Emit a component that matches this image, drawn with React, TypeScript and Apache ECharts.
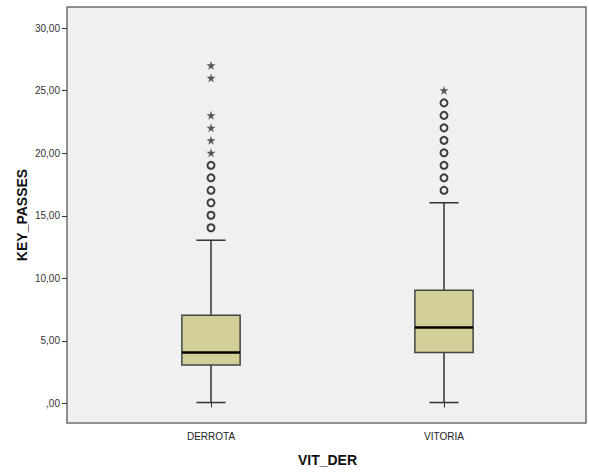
import React, { useEffect, useRef } from "react";
import * as echarts from "echarts";

const categories = ["DERROTA", "VITORIA"];
// [lower whisker, Q1, median, Q3, upper whisker]
const boxStats = [
  [0, 3, 4, 7, 13],
  [0, 4, 6, 9, 16],
];
const circleOutliers = [
  [14, 15, 16, 17, 18, 19],
  [17, 18, 19, 20, 21, 22, 23, 24],
];
const starOutliers = [
  [20, 21, 22, 23, 26, 27],
  [25],
];
const yTicks = [0, 5, 10, 15, 20, 25, 30];
const yMin = -1.56;
const yMax = 31.68;

const STAR =
  "path://M50,0 L61.8,35.1 L98.9,35.1 L68.9,57.1 L80.3,92.1 L50,70.5 L19.7,92.1 L31.1,57.1 L1.1,35.1 L38.2,35.1 Z";

const FONT = "'Liberation Sans', Arial, sans-serif";

export default function App() {
  const ref = useRef<HTMLDivElement>(null);
  useEffect(() => {
    if (!ref.current) return;
    const chart = echarts.init(ref.current, undefined, { renderer: "svg" });

    const boxData = boxStats.map((s, i) => [i, ...s]);
    const circleData: number[][] = [];
    circleOutliers.forEach((arr, i) => arr.forEach((v) => circleData.push([i, v])));
    const starData: number[][] = [];
    starOutliers.forEach((arr, i) => arr.forEach((v) => starData.push([i, v])));

    const fmt = (v: number) => {
      const s = v.toFixed(2).replace(".", ",");
      return v === 0 ? ",00" : s;
    };

    chart.setOption({
      animation: false,
      textStyle: { fontFamily: FONT },
      grid: [
        {
          left: 67,
          top: 7,
          right: 3,
          bottom: 49,
          show: true,
          backgroundColor: "#f0f0f0",
          borderColor: "#6e6e6e",
          borderWidth: 1.5,
          containLabel: false,
        },
        {
          left: 94.5,
          top: 7,
          right: 28.5,
          bottom: 49,
          containLabel: false,
        },
      ],
      xAxis: [
        {
          gridIndex: 0,
          type: "value",
          min: 0,
          max: 1,
          show: false,
        },
        {
          gridIndex: 1,
          type: "category",
          data: categories,
          boundaryGap: true,
          axisLine: { show: false },
          axisTick: {
            show: true,
            alignWithLabel: true,
            length: 5,
            lineStyle: { color: "#333", width: 1 },
          },
          axisLabel: { color: "#222", fontSize: 10, margin: 9, fontFamily: FONT },
          name: "VIT_DER",
          nameLocation: "middle",
          nameGap: 31,
          nameTextStyle: { fontSize: 14, fontWeight: "bold", color: "#111", fontFamily: FONT },
          splitLine: { show: false },
        },
      ],
      yAxis: [
        {
          gridIndex: 0,
          type: "value",
          min: yMin,
          max: yMax,
          axisLine: { show: false },
          axisTick: {
            show: true,
            length: 5,
            customValues: yTicks,
            lineStyle: { color: "#333", width: 1 },
          },
          axisLabel: {
            customValues: yTicks,
            formatter: (v: number) => fmt(v),
            color: "#333",
            fontSize: 10,
            margin: 7,
            fontFamily: FONT,
          },
          splitLine: { show: false },
          name: "KEY_PASSES",
          nameLocation: "middle",
          nameRotate: 90,
          nameGap: 38,
          nameMoveOverlap: false,
          nameTextStyle: { fontSize: 14, fontWeight: "bold", color: "#111", fontFamily: FONT },
        },
        {
          gridIndex: 1,
          type: "value",
          min: yMin,
          max: yMax,
          show: false,
          splitLine: { show: false },
        },
      ],
      series: [
        {
          type: "custom",
          xAxisIndex: 1,
          yAxisIndex: 1,
          data: boxData,
          encode: { x: 0, y: [1, 2, 3, 4, 5] },
          renderItem: (params: any, api: any) => {
            const x = api.value(0);
            const lo = api.coord([x, api.value(1)]);
            const q1 = api.coord([x, api.value(2)]);
            const med = api.coord([x, api.value(3)]);
            const q3 = api.coord([x, api.value(4)]);
            const hi = api.coord([x, api.value(5)]);
            const band = api.size([1, 0])[0];
            const w = band * 0.25;
            const cw = w / 2;
            const cx = lo[0];
            const lineStyle = { stroke: "#333", lineWidth: 1.5 };
            return {
              type: "group",
              children: [
                { type: "line", shape: { x1: cx, y1: hi[1], x2: cx, y2: q3[1] }, style: lineStyle },
                { type: "line", shape: { x1: cx, y1: q1[1], x2: cx, y2: lo[1] }, style: lineStyle },
                { type: "line", shape: { x1: cx - cw / 2, y1: hi[1], x2: cx + cw / 2, y2: hi[1] }, style: lineStyle },
                { type: "line", shape: { x1: cx - cw / 2, y1: lo[1], x2: cx + cw / 2, y2: lo[1] }, style: lineStyle },
                {
                  type: "rect",
                  shape: { x: cx - w / 2, y: q3[1], width: w, height: q1[1] - q3[1] },
                  style: { fill: "#d3cf98", stroke: "#444", lineWidth: 1.5 },
                },
                {
                  type: "line",
                  shape: { x1: cx - w / 2, y1: med[1], x2: cx + w / 2, y2: med[1] },
                  style: { stroke: "#000", lineWidth: 2.5 },
                },
              ],
            };
          },
          z: 2,
        },
        {
          type: "scatter",
          xAxisIndex: 1,
          yAxisIndex: 1,
          data: circleData,
          symbol: "circle",
          symbolSize: 7,
          itemStyle: { color: "rgba(0,0,0,0)", borderColor: "#111", borderWidth: 2 },
          z: 3,
        },
        {
          type: "scatter",
          xAxisIndex: 1,
          yAxisIndex: 1,
          data: starData,
          symbol: STAR,
          symbolSize: 9,
          itemStyle: { color: "#333" },
          z: 3,
        },
      ],
    });
    return () => chart.dispose();
  }, []);

  return (
    <div
      ref={ref}
      style={{ position: "fixed", left: 0, top: 0, width: 589, height: 472, background: "#fff" }}
    />
  );
}
